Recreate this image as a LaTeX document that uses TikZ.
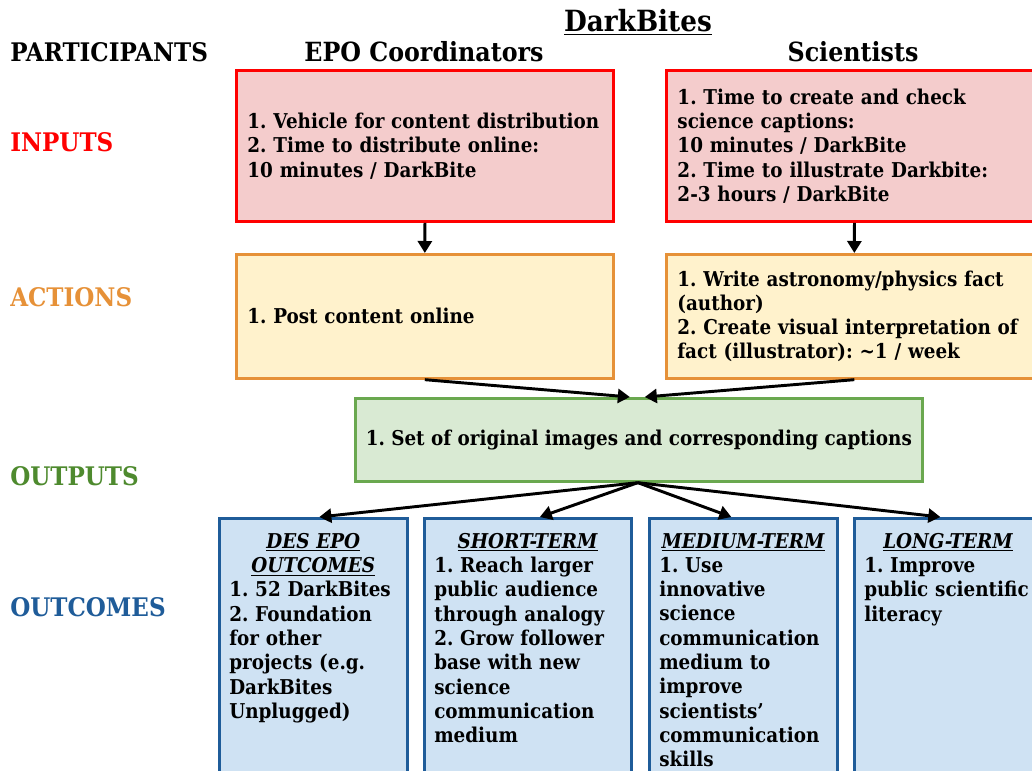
\documentclass[tikz,border=0pt]{standalone}
\usepackage{fontspec}
\setmainfont{DejaVu Serif}[FakeStretch=0.9]
\usetikzlibrary{arrows.meta}
\definecolor{inred}{HTML}{FF0000}
\definecolor{infill}{HTML}{F4CCCC}
\definecolor{actor}{HTML}{E69138}
\definecolor{actfill}{HTML}{FFF2CC}
\definecolor{outgr}{HTML}{6AA84F}
\definecolor{outgrtxt}{HTML}{4E8A2E}
\definecolor{outfill}{HTML}{D9EAD3}
\definecolor{ocblue}{HTML}{1F5C99}
\definecolor{ocfill}{HTML}{CFE2F3}
\def\u{0.75pt}
\frenchspacing
\newcommand\hdr[1]{\makebox[\linewidth][c]{\underline{\textit{#1}}}}
\begin{document}
\begin{tikzpicture}[x=0.75pt,y=-0.75pt,
  body/.style={font=\bfseries\fontsize{15.3}{18.2}\selectfont},
  boxbase/.style={body, rectangle, anchor=north west, inner xsep=11*\u, inner ysep=0pt, align=left},
  inbox/.style={boxbase, draw=inred, fill=infill, line width=2.2pt, minimum height=151*\u},
  actbox/.style={boxbase, draw=actor, fill=actfill, line width=2pt, minimum height=124*\u},
  outbox/.style={boxbase, draw=outgr, fill=outfill, line width=2pt, minimum height=83*\u, inner xsep=2pt, align=center},
  ocbox/.style={rectangle, anchor=north west, draw=ocblue, fill=ocfill, line width=2pt, minimum height=300*\u, inner sep=0pt},
  octext/.style={body, anchor=north west, inner sep=0pt, align=left},
  rowlab/.style={font=\bfseries\fontsize{19.2}{22}\selectfont, anchor=west, inner sep=0pt},
  colhead/.style={font=\bfseries\fontsize{19.8}{22}\selectfont, inner sep=0pt},
  arr/.style={-{Triangle[length=12*\u,width=14*\u]}, line width=2.2pt, black}
]
\useasboundingbox (0,0) rectangle (1032,771);
\clip (0,0) rectangle (1032,771);

% titles
\node[font=\bfseries\fontsize{21.9}{24}\selectfont, inner sep=0pt] (title) at (638,22) {\underline{DarkBites}};
\node[rowlab] (part) at (10,52) {PARTICIPANTS};
\node[colhead] (epo) at (424,52) {EPO Coordinators};
\node[colhead] (sci) at (853,52) {Scientists};

% row labels
\node[rowlab, text=inred] (linputs) at (10,142) {INPUTS};
\node[rowlab, text=actor] (lactions) at (10,297) {ACTIONS};
\node[rowlab, text=outgrtxt] (loutputs) at (10,476) {OUTPUTS};
\node[rowlab, text=ocblue] (loutcomes) at (10,607) {OUTCOMES};

% inputs
\node[inbox, minimum width=377*\u, text width=355*\u] (in1) at (235,69)
  {1. Vehicle for content distribution\\2. Time to distribute online:\\10 minutes / DarkBite};
\node[inbox, minimum width=376*\u, text width=354*\u] (in2) at (665,69)
  {1. Time to create and check\\science captions:\\10 minutes / DarkBite\\2. Time to illustrate Darkbite:\\2-3 hours / DarkBite};

% actions
\node[actbox, minimum width=377*\u, text width=355*\u] (act1) at (235,253)
  {1. Post content online};
\node[actbox, minimum width=376*\u, text width=354*\u] (act2) at (665,253)
  {1. Write astronomy/physics fact\\(author)\\2. Create visual interpretation of\\fact (illustrator): {\char"7E}1 / week};

% output
\node[outbox, minimum width=567*\u] (out) at (354,397)
  {1. Set of original images and corresponding captions};

% outcomes
\node[ocbox, minimum width=188*\u] (o1) at (218,517) {};
\node[ocbox, minimum width=207*\u] (o2) at (423,517) {};
\node[ocbox, minimum width=188*\u] (o3) at (648,517) {};
\node[ocbox, minimum width=188*\u] (o4) at (853,517) {};

\node[octext, text width=168*\u] (t1) at (229,533)
  {\hdr{DES EPO}\\\hdr{OUTCOMES}\\1. 52 DarkBites\\2. Foundation\\for other\\projects (e.g.\\DarkBites\\Unplugged)};
\node[octext, text width=187*\u] (t2) at (434,533)
  {\hdr{SHORT-TERM}\\1. Reach larger\\public audience\\through analogy\\2. Grow follower\\base with new\\science\\communication\\medium};
\node[octext, text width=168*\u] (t3) at (659,533)
  {\hdr{MEDIUM-TERM}\\1. Use\\innovative\\science\\communication\\medium to\\improve\\scientists’\\communication\\skills};
\node[octext, text width=168*\u] (t4) at (864,533)
  {\hdr{LONG-TERM}\\1. Improve\\public scientific\\literacy};

% connectors
\draw[arr] (in1.south) -- (act1.north);
\draw[arr] (in2.south) -- (act2.north);
\draw[arr] (act1.south) -- ([xshift=-9*\u]out.north);
\draw[arr] (act2.south) -- ([xshift=6*\u]out.north);
\draw[arr] ([xshift=-1*\u]out.south) -- ([xshift=6*\u]o1.north);
\draw[arr] ([xshift=-1*\u]out.south) -- ([xshift=12*\u]o2.north);
\draw[arr] ([xshift=-1*\u]out.south) -- ([xshift=-12*\u]o3.north);
\draw[arr] ([xshift=-1*\u]out.south) -- ([xshift=-8*\u]o4.north);
\end{tikzpicture}
\end{document}
